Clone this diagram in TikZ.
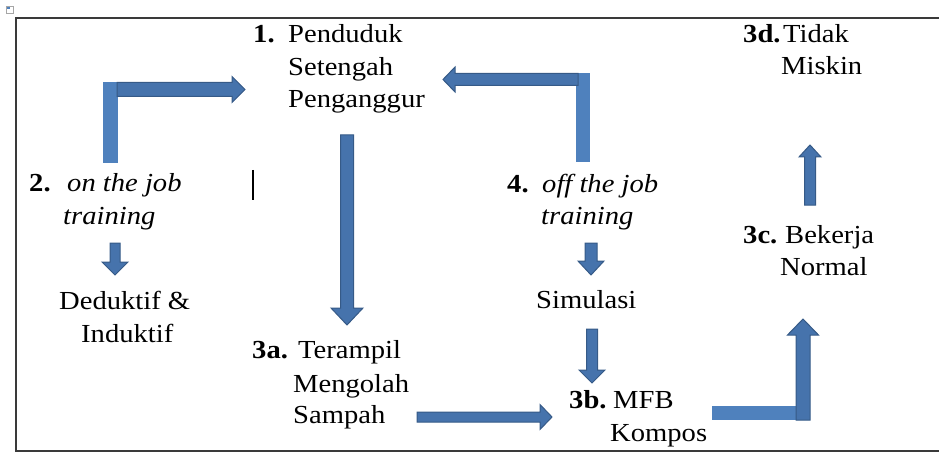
\documentclass[tikz,border=0pt]{standalone}
\usepackage{fontspec}
\setmainfont{Liberation Serif}[FakeStretch=1.1]
\definecolor{barcol}{HTML}{4F81BD}
\definecolor{arrfill}{HTML}{4673AC}
\definecolor{arredge}{HTML}{365A87}
\definecolor{framecol}{HTML}{3A3A3A}
\tikzset{
  lbl/.style={anchor=base west, inner sep=0pt, font=\fontsize{26}{33}\selectfont},
  num/.style={lbl, font=\fontsize{26}{33}\selectfont\bfseries},
  itl/.style={lbl, font=\fontsize{26}{33}\selectfont\itshape},
  barrow/.style={fill=arrfill, draw=arredge, line width=1pt, line join=miter},
  stub/.style={fill=barcol}
}
% vertical block arrow: x, y start, y tip, shaft half, head half, head length
\newcommand{\myvarrow}[6]{%
  \filldraw[barrow] ({#1-#4},#2) -- ({#1+#4},#2) -- ({#1+#4},{#3-#6*sign(#3-#2)})
    -- ({#1+#5},{#3-#6*sign(#3-#2)}) -- (#1,#3) -- ({#1-#5},{#3-#6*sign(#3-#2)})
    -- ({#1-#4},{#3-#6*sign(#3-#2)}) -- cycle;}
% horizontal block arrow: y, x start, x tip, shaft half, head half, head length
\newcommand{\myharrow}[6]{%
  \filldraw[barrow] (#2,{#1-#4}) -- (#2,{#1+#4}) -- ({#3-#6*sign(#3-#2)},{#1+#4})
    -- ({#3-#6*sign(#3-#2)},{#1+#5}) -- (#3,#1) -- ({#3-#6*sign(#3-#2)},{#1-#5})
    -- ({#3-#6*sign(#3-#2)},{#1-#4}) -- cycle;}
\begin{document}
\begin{tikzpicture}[x=1pt,y=-1pt]
\useasboundingbox (0,0) rectangle (939,457);
% frame
\draw[framecol, line width=1.6pt] (945,18) -- (16,18) -- (16,451) -- (945,451);
% small anchor icon
\draw[gray!70, line width=0.6pt, fill=white] (6,6) rectangle (13,13);
\fill[barcol] (7,7) rectangle (9.5,9.5);
% text cursor
\draw[black, line width=2pt] (253,170) -- (253,200);

% 1
\node[num] (n1num) at (253,43) {1.};
\node[lbl] (n1a) at (288,43) {Penduduk};
\node[lbl] (n1b) at (288,76) {Setengah};
\node[lbl] (n1c) at (288,108) {Penganggur};
% 2
\node[num] (n2num) at (29,192) {2.};
\node[itl] (n2a) at (67,192) {on the job};
\node[itl] (n2b) at (63,224) {training};
\node[lbl] (n2c) at (59,309) {Deduktif \&};
\node[lbl] (n2d) at (81,342) {Induktif};
% 3a
\node[num] (n3anum) at (252,358) {3a.};
\node[lbl] (n3a1) at (298,358) {Terampil};
\node[lbl] (n3a2) at (293,392) {Mengolah};
\node[lbl] (n3a3) at (293,423) {Sampah};
% 4
\node[num] (n4num) at (507,193) {4.};
\node[itl] (n4a) at (542,193) {off the job};
\node[itl] (n4b) at (541,224) {training};
\node[lbl] (n4c) at (536,308) {Simulasi};
% 3b
\node[num] (n3bnum) at (569,408) {3b.};
\node[lbl] (n3b1) at (613,408) {MFB};
\node[lbl] (n3b2) at (610,441) {Kompos};
% 3c
\node[num] (n3cnum) at (743,243) {3c.};
\node[lbl] (n3c1) at (785,243) {Bekerja};
\node[lbl] (n3c2) at (780,275) {Normal};
% 3d
\node[num] (n3dnum) at (743,43) {3d.};
\node[lbl] (n3d1) at (783,43) {Tidak};
\node[lbl] (n3d2) at (781,75) {Miskin};

% elbow 2 -> 1
\fill[stub] (103,82.5) rectangle (118,163);
\myharrow{89.5}{117}{245}{7}{13}{13}
% elbow 4 -> 1
\fill[stub] (576,73.5) rectangle (590,162);
\myharrow{79.5}{578}{443}{6}{12.5}{12}
% 1 -> 3a
\myvarrow{347}{135}{325}{6.5}{16}{17}
% 2 -> deduktif
\myvarrow{115}{243}{275}{5}{13}{13}
% 4 -> simulasi
\myvarrow{591}{243}{275}{6}{13}{14}
% simulasi -> 3b
\myvarrow{592}{329}{383}{5.5}{13}{13}
% 3a -> 3b
\myharrow{417}{417}{552}{5}{12.5}{12}
% elbow 3b -> 3c
\fill[stub] (712,406) rectangle (805,420);
\myvarrow{803}{420}{319}{7}{15.5}{16}
% 3c -> 3d
\myvarrow{810}{205}{145}{5.5}{11}{12}
\end{tikzpicture}
\end{document}
